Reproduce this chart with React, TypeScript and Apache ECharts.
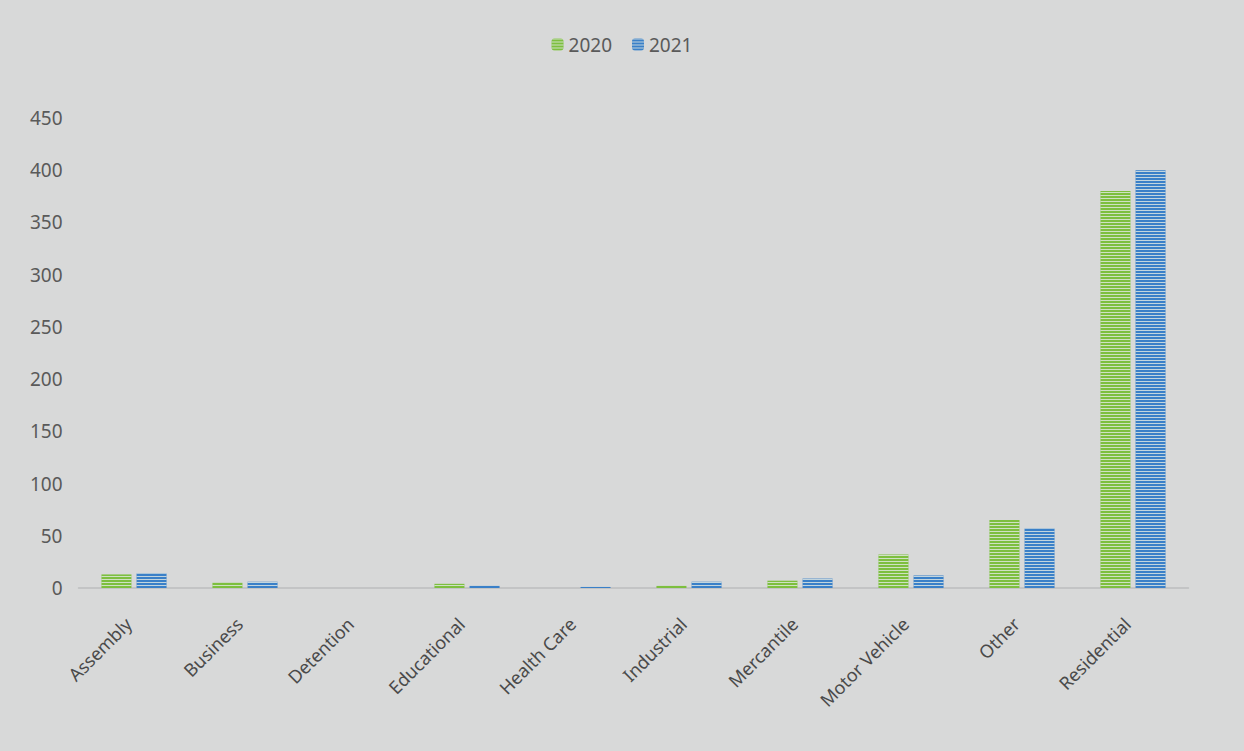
import React, { useEffect, useRef } from "react";
import * as echarts from "echarts";

const categories = [
  "Assembly",
  "Business",
  "Detention",
  "Educational",
  "Health Care",
  "Industrial",
  "Mercantile",
  "Motor Vehicle",
  "Other",
  "Residential",
];
const values2020 = [13, 5, 0, 4, 0, 2, 7, 32, 65, 380];
const values2021 = [14, 6, 0, 2, 1, 6, 9, 12, 57, 400];
const yTicks = { min: 0, max: 450, interval: 50 };

const GREEN = "#7dbf3f";
const BLUE = "#3a80c8";
const FONT = "'Noto Sans', 'Open Sans', sans-serif";

// horizontal line pattern over the bar fill
const stripes = {
  symbol: "rect",
  symbolSize: 1,
  dashArrayX: [8, 0],
  dashArrayY: [1, 2],
  color: "rgba(228,234,228,0.8)",
  rotation: 0,
};

export default function App() {
  const ref = useRef<HTMLDivElement>(null);

  useEffect(() => {
    if (!ref.current) return;
    const chart = echarts.init(ref.current, undefined, { renderer: "svg" });
    chart.setOption({
      animation: false,
      backgroundColor: "#d8d9d9",
      textStyle: { fontFamily: FONT },
      legend: {
        top: 30,
        left: "center",
        itemWidth: 12,
        itemHeight: 12,
        itemGap: 20,
        textStyle: { color: "#5a5a5a", fontSize: 19, fontFamily: FONT },
        data: ["2020", "2021"],
      },
      grid: { left: 78.5, right: 55.5, top: 118, bottom: 163, containLabel: false },
      xAxis: {
        type: "category",
        data: categories,
        axisTick: { show: false },
        axisLine: { lineStyle: { color: "#bcbdbe", width: 1.5 } },
        axisLabel: {
          rotate: 45,
          interval: 0,
          margin: 27,
          padding: [0, 8, 0, 0],
          color: "#4a4a4a",
          fontSize: 18,
          fontFamily: FONT,
        },
      },
      yAxis: {
        type: "value",
        min: yTicks.min,
        max: yTicks.max,
        interval: yTicks.interval,
        axisLine: { show: false },
        axisTick: { show: false },
        splitLine: { show: false },
        axisLabel: { color: "#5a5a5a", fontSize: 19, margin: 16, fontFamily: FONT },
      },
      series: [
        {
          name: "2020",
          type: "bar",
          data: values2020,
          barWidth: 30,
          barGap: "17%",
          itemStyle: { color: GREEN, decal: stripes },
        },
        {
          name: "2021",
          type: "bar",
          data: values2021,
          barWidth: 30,
          itemStyle: { color: BLUE, decal: stripes },
        },
      ],
    });
    return () => chart.dispose();
  }, []);

  return (
    <div
      ref={ref}
      style={{ position: "fixed", left: 0, top: 0, width: 1244, height: 751 }}
    />
  );
}
